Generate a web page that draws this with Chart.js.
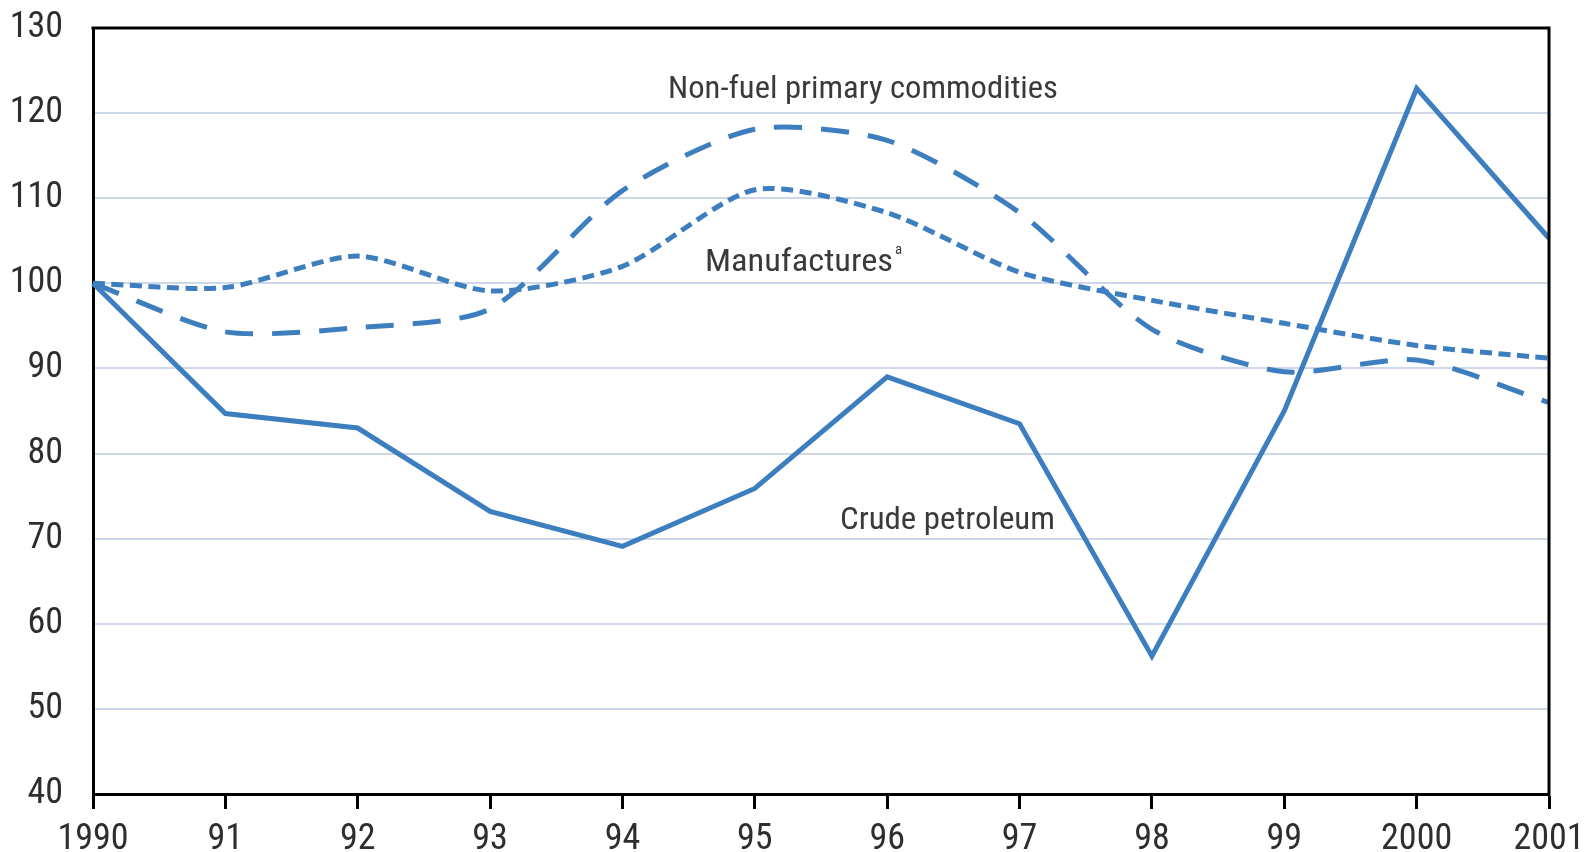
<!DOCTYPE html>
<html><head><meta charset="utf-8">
<script src="https://cdn.jsdelivr.net/npm/chart.js@4.4.1/dist/chart.umd.min.js"></script>
<style>html,body{margin:0;padding:0;background:#fff;}canvas{display:block}</style>
</head><body>
<canvas id="c" width="1586" height="852"></canvas>
<script>
// ---- data ----
const years = ['1990','91','92','93','94','95','96','97','98','99','2000','2001'];
const crudePetroleum = [100, 84.7, 83.0, 73.2, 69.1, 75.9, 89.0, 83.5, 56.2, 85.0, 122.9, 105.3];
const nonFuelPrimary = [100, 94.3, 94.8, 97.0, 110.9, 118.1, 116.8, 108.3, 94.6, 89.6, 91.0, 86.0];
const manufactures   = [100, 99.5, 103.2, 99.1, 102.0, 111.0, 108.3, 101.3, 98.0, 95.3, 92.7, 91.2];
const yMin = 40, yMax = 130, yStep = 10;

// ---- styling ----
const LINE = '#3d7ebf';
const TICK_FONT = "'Roboto Condensed', 'Liberation Sans Narrow', 'DejaVu Sans Condensed', 'Liberation Sans', sans-serif";
const NOTE_FONT = "'Roboto Condensed', 'Liberation Sans', 'DejaVu Sans', sans-serif";
const notes = [
  {text: 'Non-fuel primary commodities', left: 668, baseline: 98, width: 390},
  {text: 'Manufactures', left: 705, baseline: 271, width: 188, sup: 'a'},
  {text: 'Crude petroleum', left: 840, baseline: 529, width: 215}
];

const framePlugin = {
  id: 'frame',
  afterDatasetsDraw(chart) {
    const {ctx, chartArea: a} = chart;
    ctx.save();
    ctx.strokeStyle = '#000';
    ctx.lineWidth = 3;
    ctx.beginPath();
    ctx.moveTo(a.left - 1.5, a.top);
    ctx.lineTo(a.right, a.top);
    ctx.lineTo(a.right, a.bottom + 1.5);
    ctx.stroke();
    ctx.restore();
  },
  afterDraw(chart) {
    const {ctx} = chart;
    ctx.save();
    ctx.fillStyle = '#3a3a3a';
    ctx.textBaseline = 'alphabetic';
    for (const n of notes) {
      ctx.font = '31px ' + NOTE_FONT;
      const w = ctx.measureText(n.text).width;
      ctx.save();
      ctx.translate(n.left, n.baseline);
      ctx.scale(n.width / w, 1);
      ctx.fillText(n.text, 0, 0);
      ctx.restore();
      if (n.sup) {
        ctx.font = '15px ' + NOTE_FONT;
        ctx.fillText(n.sup, n.left + n.width + 2, n.baseline - 17);
      }
    }
    ctx.restore();
  }
};

function zeroPad(s) { s.paddingTop = 0; s.paddingBottom = 0; s.paddingLeft = 0; s.paddingRight = 0; }

new Chart(document.getElementById('c'), {
  type: 'line',
  data: {
    labels: years,
    datasets: [
      {label: 'Non-fuel primary commodities', data: nonFuelPrimary, borderColor: LINE, borderWidth: 5,
       borderDash: [28, 19], tension: 0.25, pointRadius: 0, fill: false},
      {label: 'Manufactures', data: manufactures, borderColor: LINE, borderWidth: 5,
       borderDash: [12, 6.5], tension: 0.25, pointRadius: 0, fill: false},
      {label: 'Crude petroleum', data: crudePetroleum, borderColor: LINE, borderWidth: 5,
       tension: 0, pointRadius: 0, fill: false, borderJoinStyle: 'miter'}
    ]
  },
  options: {
    responsive: false,
    animation: false,
    devicePixelRatio: 1,
    layout: {padding: {top: 28, right: 37, left: 0, bottom: 0}},
    plugins: {legend: {display: false}, tooltip: {enabled: false}},
    scales: {
      x: {
        offset: false,
        grid: {drawOnChartArea: false, drawTicks: true, tickLength: 15, tickWidth: 3, tickColor: '#000'},
        border: {display: true, color: '#000', width: 3},
        ticks: {color: '#2e2e2e', font: {family: TICK_FONT, size: 36}, padding: 9, maxRotation: 0, autoSkip: false},
        afterFit(s) { s.height = 58; zeroPad(s); }
      },
      y: {
        min: yMin, max: yMax,
        grid: {color: '#cfd8e8', lineWidth: 2, drawTicks: false},
        border: {display: true, color: '#000', width: 3},
        ticks: {stepSize: yStep, color: '#2e2e2e', font: {family: TICK_FONT, size: 36}, padding: 30},
        afterFit(s) { s.width = 93; zeroPad(s); }
      }
    }
  },
  plugins: [framePlugin]
});
</script>
</body></html>
